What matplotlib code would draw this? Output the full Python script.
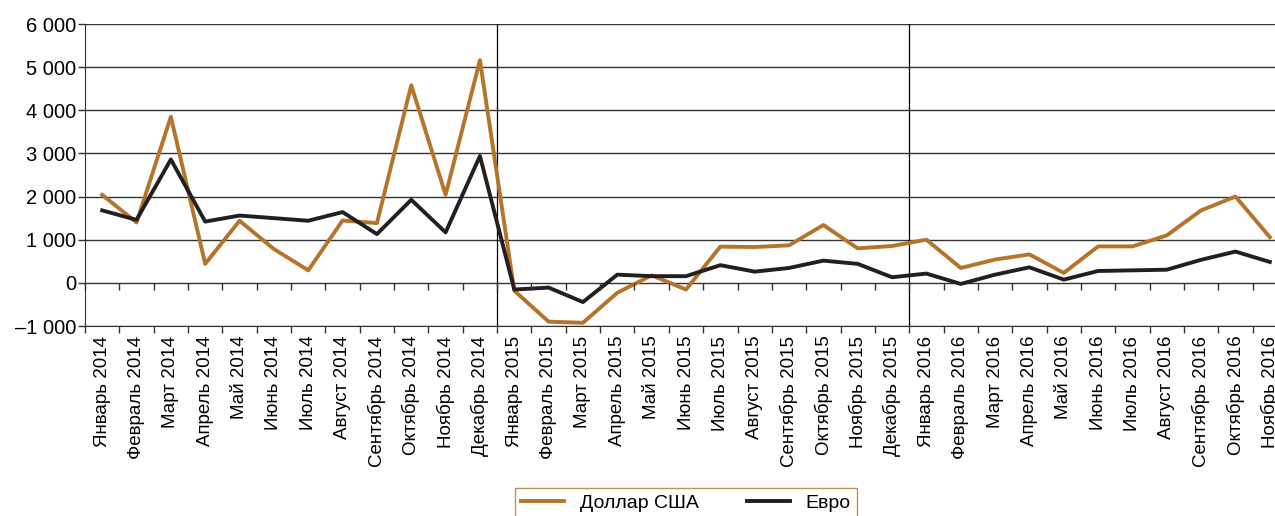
import matplotlib.pyplot as plt
import numpy as np

plt.rcParams['font.family'] = ['Liberation Sans', 'DejaVu Sans']

# Месяцы и годы
months = ['Январь', 'Февраль', 'Март', 'Апрель', 'Май', 'Июнь', 'Июль',
          'Август', 'Сентябрь', 'Октябрь', 'Ноябрь', 'Декабрь']
years = [2014, 2015, 2016]
labels = [f'{m} {y}' for y in years for m in months][:35]  # до ноября 2016

# Значения
usd = [2040, 1400, 3850, 440, 1440, 785, 290, 1445, 1385, 4580, 2040, 5160,
       -180, -900, -925, -230, 175, -155, 840, 830, 870, 1340, 800, 855,
       1000, 345, 540, 660, 230, 845, 845, 1100, 1680, 2000, 1060]
eur = [1680, 1460, 2860, 1420, 1560, 1500, 1440, 1640, 1130, 1925, 1170, 2940,
       -155, -110, -445, 190, 155, 155, 410, 260, 345, 515, 440, 130,
       215, -25, 190, 360, 75, 275, 290, 305, 535, 725, 485]

yticks = [-1000, 0, 1000, 2000, 3000, 4000, 5000, 6000]
ytick_labels = ['–1 000', '0', '1 000', '2 000', '3 000', '4 000', '5 000', '6 000']

c_usd = '#b5742b'
c_eur = '#231f20'

fig = plt.figure(figsize=(12.75, 5.16), dpi=100)
ax = fig.add_axes([85 / 1275, 190 / 516, 1202 / 1275, 302 / 516])

x = np.arange(len(labels))
ax.plot(x, usd, color=c_usd, lw=2.8, label='Доллар США', zorder=3)
ax.plot(x, eur, color=c_eur, lw=2.8, label='Евро', zorder=3)

ax.set_xlim(-0.5, 34.5)
ax.set_ylim(-1000, 6000)
ax.set_yticks(yticks)
ax.set_yticklabels(ytick_labels, fontsize=14.5)
ax.yaxis.grid(True, color='#333333', lw=1)
ax.set_axisbelow(True)

# вертикальные разделители лет
for b in [11.5, 23.5]:
    ax.axvline(b, color='black', lw=0.9, zorder=2)

ax.set_xticks(x)
ax.set_xticklabels(labels, rotation=90, fontsize=13.5, va='top')
ax.set_xticks(np.arange(-0.5, 35, 1), minor=True)
ax.tick_params(axis='x', which='major', length=0, pad=7)
ax.tick_params(axis='x', which='minor', length=5, width=1, color='#333333')
ax.tick_params(axis='y', length=5, width=1, color='#333333', pad=1.5)

for s in ['top', 'right']:
    ax.spines[s].set_visible(False)
ax.spines['left'].set_color('#333333')
ax.spines['bottom'].set_color('#333333')

# засечки на нулевой линии
ax2 = ax.twiny()
ax2.set_xlim(ax.get_xlim())
for s in ['top', 'right', 'left', 'bottom']:
    ax2.spines[s].set_visible(False)
ax2.spines['bottom'].set_position(('data', 0))
ax2.xaxis.set_ticks_position('bottom')
ax2.set_xticks(np.arange(-0.5, 35, 1))
ax2.tick_params(axis='x', length=5, width=1, color='#333333', labelbottom=False, labeltop=False)

leg = fig.legend(loc='upper center', bbox_to_anchor=(686 / 1275, 1 - 478 / 516),
                 ncol=2, fontsize=14, frameon=True, fancybox=False,
                 handlelength=2.2, columnspacing=2.5, borderpad=0.35)
leg.get_frame().set_edgecolor(c_usd)
leg.get_frame().set_linewidth(1)

fig.savefig('out.png', dpi=100)
